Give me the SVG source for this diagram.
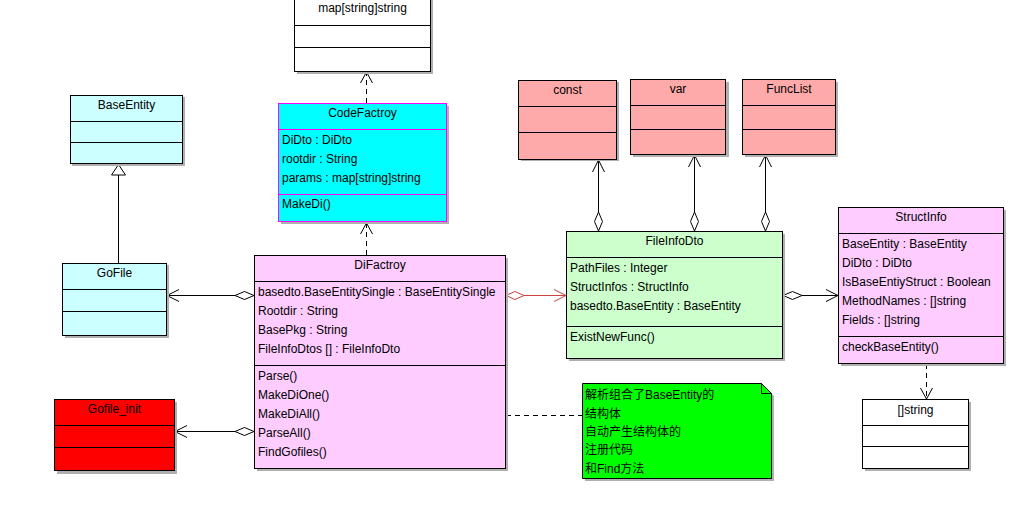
<svg xmlns="http://www.w3.org/2000/svg" width="1016" height="515" viewBox="0 0 1016 515">
<style>
text{font-family:"Liberation Sans",Arial,sans-serif;font-size:12px;fill:#000}
.t{text-anchor:middle}
.cn{font-family:"Liberation Sans","Noto Sans CJK SC",sans-serif}
.b{stroke:#000;stroke-width:1}
.sh{fill:#b0b0b0;stroke:none}
.ln{stroke:#000;stroke-width:1;fill:none}
.dl{stroke:#000;stroke-width:1;fill:none;stroke-dasharray:5,4}
.rl{stroke:#d04040;stroke-width:1;fill:none}
</style>
<rect width="1016" height="515" fill="#fff"/>

<g id="connectors">
  <!-- CodeFactroy -> map -->
  <line class="dl" x1="366.5" y1="103" x2="366.5" y2="72"/>
  <polyline class="ln" points="360.5,83 366.5,72 372.5,83"/>
  <!-- DiFactroy -> CodeFactroy -->
  <line class="dl" x1="366.5" y1="255" x2="366.5" y2="223"/>
  <polyline class="ln" points="360.5,234 366.5,223 372.5,234"/>
  <!-- GoFile -> BaseEntity generalization -->
  <line class="ln" x1="118.5" y1="263" x2="118.5" y2="175"/>
  <polygon points="111.5,175 118.5,164.5 125.5,175" fill="#fff" stroke="#000"/>
  <!-- DiFactroy -> GoFile -->
  <line class="ln" x1="167" y1="295.5" x2="235" y2="295.5"/>
  <polyline class="ln" points="179,289.5 167,295.5 179,301.5"/>
  <polygon points="235,295.5 244.5,291.5 254,295.5 244.5,299.5" fill="#fff" stroke="#000"/>
  <!-- DiFactroy -> Gofile_init -->
  <line class="ln" x1="175" y1="431.5" x2="235" y2="431.5"/>
  <polyline class="ln" points="187,425.5 175,431.5 187,437.5"/>
  <polygon points="235,431.5 244.5,427.5 254,431.5 244.5,435.5" fill="#fff" stroke="#000"/>
  <!-- DiFactroy -> FileInfoDto (red) -->
  <line class="rl" x1="524" y1="295.5" x2="566" y2="295.5"/>
  <polyline class="rl" points="554,289.5 566,295.5 554,301.5"/>
  <polygon points="506,295.5 515,291.5 524,295.5 515,299.5" fill="#fff" stroke="#d04040"/>
  <!-- FileInfoDto -> StructInfo -->
  <line class="ln" x1="802" y1="295.5" x2="838" y2="295.5"/>
  <polyline class="ln" points="826,289.5 838,295.5 826,301.5"/>
  <polygon points="783,295.5 792.5,291.5 802,295.5 792.5,299.5" fill="#fff" stroke="#000"/>
  <!-- FileInfoDto -> const -->
  <line class="ln" x1="598.5" y1="160" x2="598.5" y2="212"/>
  <polyline class="ln" points="592.5,172 598.5,160 604.5,172"/>
  <polygon points="598.5,212 602.5,221.5 598.5,231 594.5,221.5" fill="#fff" stroke="#000"/>
  <!-- FileInfoDto -> var -->
  <line class="ln" x1="694.5" y1="155" x2="694.5" y2="212"/>
  <polyline class="ln" points="688.5,167 694.5,155 700.5,167"/>
  <polygon points="694.5,212 698.5,221.5 694.5,231 690.5,221.5" fill="#fff" stroke="#000"/>
  <!-- FileInfoDto -> FuncList -->
  <line class="ln" x1="765.5" y1="155" x2="765.5" y2="212"/>
  <polyline class="ln" points="759.5,167 765.5,155 771.5,167"/>
  <polygon points="765.5,212 769.5,221.5 765.5,231 761.5,221.5" fill="#fff" stroke="#000"/>
  <!-- StructInfo -> []string -->
  <line class="dl" x1="926.5" y1="364" x2="926.5" y2="399"/>
  <polyline class="ln" points="920.5,388 926.5,399 932.5,388"/>
  <!-- Note link -->
  <line class="dl" x1="506" y1="415.5" x2="582" y2="415.5"/>
</g>

<g id="map">
  <rect class="sh" x="297" y="-3" width="136" height="77"/>
  <rect class="b" x="294.5" y="-5.5" width="136" height="77" fill="#fff"/>
  <line class="ln" x1="294.5" y1="25.5" x2="430.5" y2="25.5"/>
  <line class="ln" x1="294.5" y1="47.5" x2="430.5" y2="47.5"/>
  <text class="t" x="362.5" y="12">map[string]string</text>
</g>

<g id="CodeFactroy">
  <rect class="sh" x="281" y="106" width="168" height="118"/>
  <rect x="278.5" y="103.5" width="168" height="118" fill="#00ffff" stroke="#ff00ff"/>
  <line x1="278.5" y1="129.5" x2="446.5" y2="129.5" stroke="#ff00ff"/>
  <line x1="278.5" y1="194.5" x2="446.5" y2="194.5" stroke="#ff00ff"/>
  <text class="t" x="362.5" y="117">CodeFactroy</text>
  <text x="282" y="144">DiDto : DiDto</text>
  <text x="282" y="163">rootdir : String</text>
  <text x="282" y="182">params : map[string]string</text>
  <text x="282" y="208">MakeDi()</text>
</g>

<g id="BaseEntity">
  <rect class="sh" x="72" y="97" width="113" height="69"/>
  <rect class="b" x="70.5" y="95.5" width="112" height="68" fill="#ccffff"/>
  <line class="ln" x1="70.5" y1="121.5" x2="182.5" y2="121.5"/>
  <line class="ln" x1="70.5" y1="142.5" x2="182.5" y2="142.5"/>
  <text class="t" x="126.5" y="109">BaseEntity</text>
</g>

<g id="GoFile">
  <rect class="sh" x="65" y="265" width="104" height="73"/>
  <rect class="b" x="62.5" y="263.5" width="104" height="72" fill="#ccffff"/>
  <line class="ln" x1="62.5" y1="289.5" x2="166.5" y2="289.5"/>
  <line class="ln" x1="62.5" y1="311.5" x2="166.5" y2="311.5"/>
  <text class="t" x="114.5" y="277">GoFile</text>
</g>

<g id="Gofile_init">
  <rect class="sh" x="57" y="402" width="120" height="72"/>
  <rect class="b" x="54.5" y="399.5" width="120" height="71" fill="#ff0000"/>
  <line class="ln" x1="54.5" y1="425.5" x2="174.5" y2="425.5"/>
  <line class="ln" x1="54.5" y1="447.5" x2="174.5" y2="447.5"/>
  <text class="t" x="114.5" y="413">Gofile_init</text>
</g>

<g id="DiFactroy">
  <rect class="sh" x="257" y="258" width="251" height="213"/>
  <rect class="b" x="254.5" y="255.5" width="251" height="213" fill="#ffccff"/>
  <line class="ln" x1="254.5" y1="281.5" x2="505.5" y2="281.5"/>
  <line class="ln" x1="254.5" y1="365.5" x2="505.5" y2="365.5"/>
  <text class="t" x="380" y="269">DiFactroy</text>
  <text x="258" y="296">basedto.BaseEntitySingle : BaseEntitySingle</text>
  <text x="258" y="315">Rootdir : String</text>
  <text x="258" y="334">BasePkg : String</text>
  <text x="258" y="353">FileInfoDtos [] : FileInfoDto</text>
  <text x="258" y="380">Parse()</text>
  <text x="258" y="399">MakeDiOne()</text>
  <text x="258" y="418">MakeDiAll()</text>
  <text x="258" y="437">ParseAll()</text>
  <text x="258" y="456">FindGofiles()</text>
</g>

<g id="const">
  <rect class="sh" x="521" y="82" width="98" height="79"/>
  <rect class="b" x="518.5" y="80.5" width="98" height="79" fill="#ffaaaa"/>
  <line class="ln" x1="518.5" y1="106.5" x2="616.5" y2="106.5"/>
  <line class="ln" x1="518.5" y1="132.5" x2="616.5" y2="132.5"/>
  <text class="t" x="567.5" y="94">const</text>
</g>

<g id="var">
  <rect class="sh" x="633" y="82" width="96" height="75"/>
  <rect class="b" x="630.5" y="79.5" width="95" height="75" fill="#ffaaaa"/>
  <line class="ln" x1="630.5" y1="105.5" x2="725.5" y2="105.5"/>
  <line class="ln" x1="630.5" y1="129.5" x2="725.5" y2="129.5"/>
  <text class="t" x="678" y="93">var</text>
</g>

<g id="FuncList">
  <rect class="sh" x="745" y="82" width="93" height="75"/>
  <rect class="b" x="742.5" y="79.5" width="93" height="75" fill="#ffaaaa"/>
  <line class="ln" x1="742.5" y1="105.5" x2="835.5" y2="105.5"/>
  <line class="ln" x1="742.5" y1="129.5" x2="835.5" y2="129.5"/>
  <text class="t" x="789" y="93">FuncList</text>
</g>

<g id="FileInfoDto">
  <rect class="sh" x="569" y="234" width="216" height="127"/>
  <rect class="b" x="566.5" y="231.5" width="216" height="127" fill="#ccffcc"/>
  <line class="ln" x1="566.5" y1="257.5" x2="782.5" y2="257.5"/>
  <line class="ln" x1="566.5" y1="326.5" x2="782.5" y2="326.5"/>
  <text class="t" x="674.5" y="245">FileInfoDto</text>
  <text x="570" y="272">PathFiles : Integer</text>
  <text x="570" y="291">StructInfos : StructInfo</text>
  <text x="570" y="310">basedto.BaseEntity : BaseEntity</text>
  <text x="570" y="341">ExistNewFunc()</text>
</g>

<g id="StructInfo">
  <rect class="sh" x="841" y="210" width="165" height="156"/>
  <rect class="b" x="838.5" y="207.5" width="165" height="156" fill="#ffccff"/>
  <line class="ln" x1="838.5" y1="233.5" x2="1003.5" y2="233.5"/>
  <line class="ln" x1="838.5" y1="336.5" x2="1003.5" y2="336.5"/>
  <text class="t" x="921" y="221">StructInfo</text>
  <text x="842" y="248">BaseEntity : BaseEntity</text>
  <text x="842" y="267">DiDto : DiDto</text>
  <text x="842" y="286">IsBaseEntiyStruct : Boolean</text>
  <text x="842" y="305">MethodNames : []string</text>
  <text x="842" y="324">Fields : []string</text>
  <text x="842" y="351">checkBaseEntity()</text>
</g>

<g id="string_slice">
  <rect class="sh" x="865" y="402" width="106" height="69"/>
  <rect class="b" x="862.5" y="399.5" width="106" height="69" fill="#fff"/>
  <line class="ln" x1="862.5" y1="425.5" x2="968.5" y2="425.5"/>
  <line class="ln" x1="862.5" y1="446.5" x2="968.5" y2="446.5"/>
  <text class="t" x="915.5" y="414">[]string</text>
</g>

<g id="note">
  <polygon class="sh" points="585,386 764,386 774,396 774,481 585,481"/>
  <polygon points="582.5,383.5 761.5,383.5 771.5,393.5 771.5,478.5 582.5,478.5" fill="#00ff00" stroke="#000"/>
  <polyline class="ln" points="761.5,383.5 761.5,393.5 771.5,393.5"/>
  <text class="cn" x="585" y="399">解析组合了BaseEntity的</text>
  <text class="cn" x="585" y="418">结构体</text>
  <text class="cn" x="585" y="436">自动产生结构体的</text>
  <text class="cn" x="585" y="454">注册代码</text>
  <text class="cn" x="585" y="473">和Find方法</text>
</g>
</svg>
